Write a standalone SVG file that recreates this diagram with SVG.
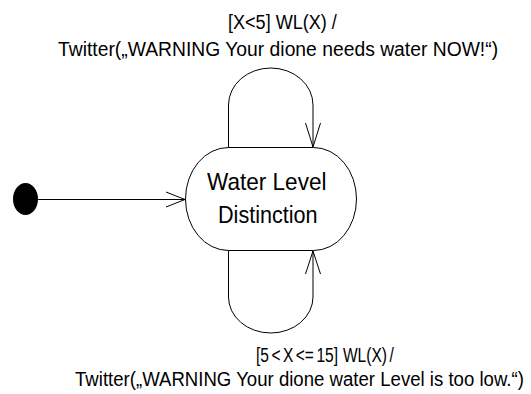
<svg xmlns="http://www.w3.org/2000/svg" width="531" height="394" viewBox="0 0 531 394">
  <style>
    .line { fill: none; stroke: #000; stroke-width: 1; }
    .head { fill: none; stroke: #000; stroke-width: 1; }
    .label { font-family: "Liberation Sans", Arial, sans-serif; font-size: 21px; fill: #000; white-space: pre; }
    .state-text { font-family: "Liberation Sans", Arial, sans-serif; font-size: 24px; fill: #000; }
  </style>
  <rect width="531" height="394" fill="#fff"/>

  <!-- initial pseudo-state -->
  <g id="initial">
    <ellipse cx="25.5" cy="199" rx="12.5" ry="16" fill="#000"/>
  </g>

  <!-- state -->
  <g id="water-level-distinction">
    <rect x="185.5" y="147.5" width="171" height="103" rx="43" ry="51.5" fill="#fff" stroke="#000" stroke-width="1"/>
    <text class="state-text" transform="translate(207,190) scale(0.94,1)">Water Level</text>
    <text class="state-text" transform="translate(218,223) scale(0.90,1)">Distinction</text>
  </g>

  <!-- transitions -->
  <g id="connectors">
    <!-- initial to state -->
    <line class="line" x1="38" y1="199.5" x2="185" y2="199.5"/>
    <polyline class="head" points="166,192 185,199.5 166,207"/>

    <!-- self-transition over the top -->
    <path class="line" d="M228.5,147.5 V105 A42.25,37 0 0 1 313,105 V147"/>
    <polyline class="head" points="305.5,123 313,147 320.5,123"/>

    <!-- self-transition underneath -->
    <path class="line" d="M228.5,250.5 V297 A42.25,36 0 0 0 313,297 V251"/>
    <polyline class="head" points="305.5,274 313,251 320.5,274"/>
  </g>

  <!-- transition labels (horizontally condensed) -->
  <g id="label-top">
    <text class="label" transform="translate(228,29) scale(0.86,1)">[X&lt;5] WL(X) /</text>
    <text class="label" transform="translate(58,56) scale(0.92,1)">Twitter(„WARNING Your dione needs water NOW!“)</text>
  </g>
  <g id="label-bottom">
    <text class="label" transform="translate(256,362) scale(0.74,1)" word-spacing="-2.5" xml:space="preserve">[5 &lt; X &lt;= 15]  WL(X) /</text>
    <text class="label" transform="translate(75,386) scale(0.886,1)">Twitter(„WARNING Your dione water Level is too low.“)</text>
  </g>
</svg>
